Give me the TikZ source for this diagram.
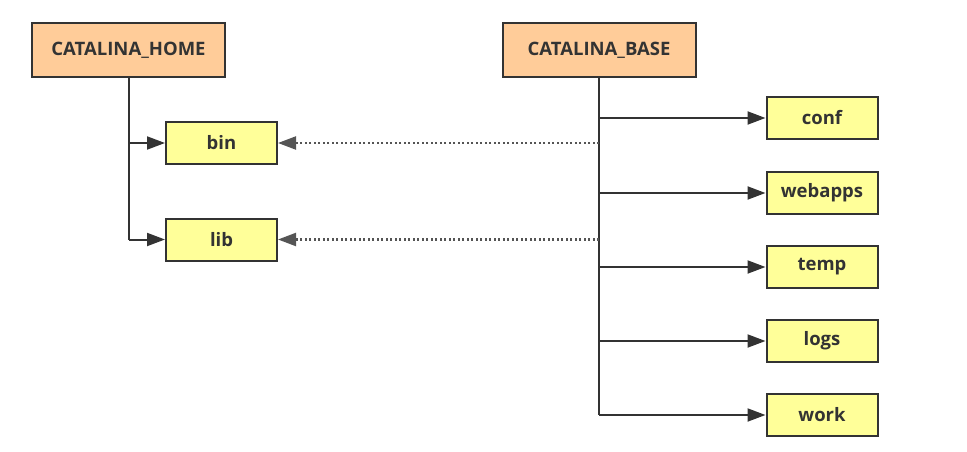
\documentclass[tikz,border=0pt]{standalone}
\usepackage{fontspec}
\setmainfont{Open Sans}
\usepackage{xcolor}
\usetikzlibrary{arrows.meta,positioning,calc}

\definecolor{framegray}{HTML}{333333}
\definecolor{orangefill}{HTML}{FFCC99}
\definecolor{yellowfill}{HTML}{FFFF99}
\definecolor{dotgray}{HTML}{555555}

\tikzset{
    rootbox/.style={draw=framegray, line width=2pt, fill=orangefill, text=framegray,
        minimum width=193pt, minimum height=54pt, inner sep=0pt, font=\fontsize{18.5}{20}\selectfont\bfseries},
    dirbox/.style={draw=framegray, line width=2pt, fill=yellowfill, text=framegray,
        minimum width=111pt, minimum height=42pt, inner sep=0pt, font=\fontsize{18.5}{20}\selectfont\bfseries},
    trunk/.style={draw=framegray, line width=2pt},
    arr/.style={draw=framegray, line width=2pt, -{Triangle[length=18pt,width=13pt]}},
    dots/.style={draw=dotgray, line width=2.2pt, dash pattern=on 2pt off 2.5pt, -{Triangle[length=18pt,width=13pt]}}
}

\begin{document}
\begin{tikzpicture}[x=1pt, y=-1pt]
    \useasboundingbox (0,0) rectangle (967,452);

    % Root folders
    \node[rootbox] (home) at (128.5,50) {CATALINA\_HOME};
    \node[rootbox] (base) at (599,50) {CATALINA\_BASE};

    % Shared folders under CATALINA_HOME
    \node[dirbox] (bin) at (221.5,143) {bin};
    \node[dirbox] (lib) at (221.5,239.5) {lib};
    \draw[trunk] (home.south) -- (home.south |- lib);
    \draw[arr] (home.south |- bin) -- (bin.west);
    \draw[arr] (home.south |- lib) -- (lib.west);

    % Instance folders under CATALINA_BASE
    \foreach \name/\y in {conf/118, webapps/193, temp/267, logs/341, work/415}
    {
        \node[dirbox] (\name) at (822,\y) {\name};
        \draw[arr] (base.south |- \name) -- (\name.west);
    }
    \draw[trunk] (base.south) -- (base.south |- work);

    % Links back to CATALINA_HOME
    \draw[dots] (base.south |- bin) -- (bin.east);
    \draw[dots] (base.south |- lib) -- (lib.east);
\end{tikzpicture}
\end{document}
